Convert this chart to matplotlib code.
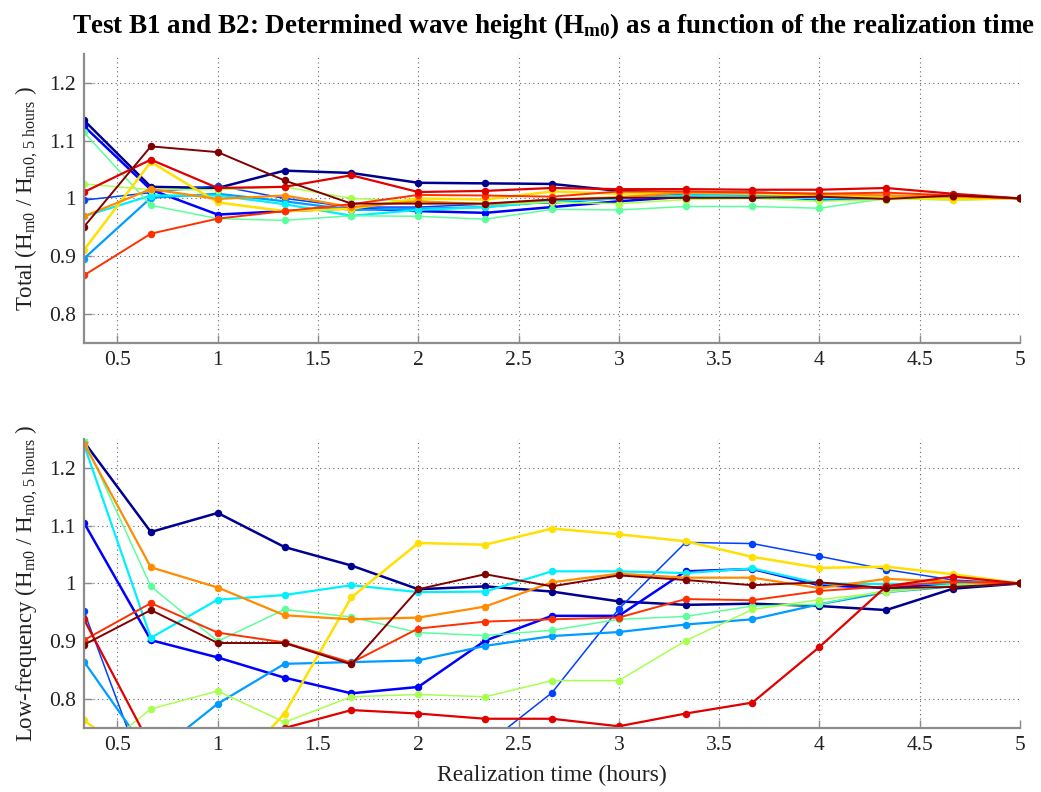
import numpy as np
import matplotlib
matplotlib.use("Agg")
import matplotlib.pyplot as plt

# ---------------- data ----------------
realization_time = [i / 3 for i in range(1, 16)]   # hours

series_colors = ["#00008f", "#0000ff", "#0040ff", "#009cff", "#00f0ff",
                 "#5cff9c", "#a8ff50", "#ffe000", "#ff8c00", "#ff3000",
                 "#e00000", "#800000"]

# Total (Hm0 / Hm0,5h)
total_navy = [1.135, 1.020, 1.018, 1.048, 1.044, 1.027, 1.026, 1.025, 1.013, 1.010, 1.010, 1.006, 1.004, 1.003, 1.0]
total_blue = [1.125, 1.015, 0.972, 0.978, 0.983, 0.978, 0.975, 0.985, 0.995, 1.003, 1.005, 0.998, 1.000, 1.000, 1.0]
total_mblue = [0.997, 1.010, 1.022, 1.000, 0.985, 0.985, 0.990, 0.992, 1.000, 1.008, 1.008, 1.005, 1.002, 1.001, 1.0]
total_lblue = [0.896, 1.001, 1.008, 0.995, 0.980, 0.982, 0.985, 0.995, 1.000, 1.005, 1.005, 1.003, 1.002, 1.000, 1.0]
total_cyan = [0.969, 1.005, 1.005, 0.990, 0.970, 0.980, 0.985, 0.995, 1.000, 1.005, 1.003, 1.000, 1.000, 1.000, 1.0]
total_lgreen = [1.114, 0.988, 0.965, 0.962, 0.970, 0.969, 0.964, 0.981, 0.980, 0.986, 0.986, 0.983, 1.000, 0.997, 1.0]
total_ygreen = [1.025, 1.015, 1.015, 1.020, 1.000, 0.995, 0.990, 0.993, 0.991, 0.998, 1.000, 0.995, 0.998, 0.999, 1.0]
total_yellow = [0.911, 1.063, 0.993, 0.978, 0.982, 1.000, 0.998, 1.012, 1.008, 1.010, 1.008, 1.005, 1.003, 0.998, 1.0]
total_orange = [0.969, 1.016, 0.999, 1.005, 0.985, 0.995, 0.990, 0.998, 1.002, 1.010, 1.010, 1.008, 1.005, 1.003, 1.0]
total_rorange = [0.867, 0.939, 0.965, 0.978, 0.990, 1.006, 1.005, 1.003, 1.012, 1.012, 1.010, 1.008, 1.010, 1.005, 1.0]
total_red = [1.011, 1.067, 1.018, 1.020, 1.040, 1.011, 1.013, 1.018, 1.016, 1.016, 1.015, 1.015, 1.018, 1.008, 1.0]
total_dred = [0.951, 1.090, 1.080, 1.031, 0.991, 0.991, 0.991, 0.998, 1.001, 1.001, 1.001, 1.003, 0.999, 1.005, 1.0]

# Low-frequency (Hm0 / Hm0,5h)
low_navy = [1.245, 1.089, 1.122, 1.063, 1.031, 0.990, 0.995, 0.986, 0.969, 0.963, 0.965, 0.961, 0.954, 0.991, 1.0]
low_blue = [1.105, 0.902, 0.872, 0.837, 0.810, 0.821, 0.901, 0.944, 0.944, 1.021, 1.025, 0.997, 0.992, 1.000, 1.0]
low_mblue = [0.952, 0.640, 0.620, 0.610, 0.640, 0.680, 0.720, 0.811, 0.956, 1.071, 1.069, 1.047, 1.024, 1.006, 1.0]
low_lblue = [0.865, 0.700, 0.792, 0.861, 0.864, 0.867, 0.892, 0.909, 0.916, 0.929, 0.938, 0.964, 0.985, 0.995, 1.0]
low_cyan = [1.240, 0.906, 0.972, 0.980, 0.997, 0.985, 0.986, 1.021, 1.021, 1.018, 1.026, 1.000, 0.999, 1.000, 1.0]
low_lgreen = [1.248, 0.995, 0.900, 0.955, 0.942, 0.915, 0.910, 0.919, 0.938, 0.943, 0.961, 0.964, 0.988, 0.998, 1.0]
low_ygreen = [0.690, 0.783, 0.814, 0.760, 0.804, 0.808, 0.804, 0.832, 0.832, 0.901, 0.955, 0.972, 0.985, 0.996, 1.0]
low_yellow = [0.763, 0.680, 0.650, 0.775, 0.976, 1.070, 1.067, 1.095, 1.085, 1.073, 1.046, 1.027, 1.029, 1.016, 1.0]
low_orange = [1.242, 1.028, 0.993, 0.945, 0.938, 0.941, 0.960, 1.002, 1.017, 1.010, 1.010, 0.992, 1.008, 1.003, 1.0]
low_rorange = [0.902, 0.966, 0.915, 0.898, 0.863, 0.922, 0.934, 0.938, 0.941, 0.973, 0.971, 0.987, 0.995, 1.003, 1.0]
low_red = [0.938, 0.718, 0.700, 0.750, 0.781, 0.775, 0.766, 0.766, 0.753, 0.775, 0.794, 0.890, 0.995, 1.012, 1.0]
low_dred = [0.894, 0.954, 0.897, 0.897, 0.860, 0.990, 1.016, 0.995, 1.014, 1.006, 0.997, 1.002, 0.992, 0.994, 1.0]

total_series = [total_navy, total_blue, total_mblue, total_lblue, total_cyan, total_lgreen,
                total_ygreen, total_yellow, total_orange, total_rorange, total_red, total_dred]
low_series = [low_navy, low_blue, low_mblue, low_lblue, low_cyan, low_lgreen,
              low_ygreen, low_yellow, low_orange, low_rorange, low_red, low_dred]
line_widths = [1.8, 1.8, 1.1, 1.6, 1.6, 1.1, 1.1, 1.8, 1.6, 1.4, 1.6, 1.4]

x_ticks = [0.5, 1, 1.5, 2, 2.5, 3, 3.5, 4, 4.5, 5]
x_tick_labels = ["0.5", "1", "1.5", "2", "2.5", "3", "3.5", "4", "4.5", "5"]
y_ticks = [0.8, 0.9, 1.0, 1.1, 1.2]
y_tick_labels = ["0.8", "0.9", "1", "1.1", "1.2"]

title = r"Test B1 and B2: Determined wave height (H$_{\mathbf{m0}}$) as a function of the realization time"
ylabel_total = r"Total (H$_{\mathrm{m0}}$ / H$_{\mathrm{m0,\,5\ hours}}$ )"
ylabel_low = r"Low-frequency (H$_{\mathrm{m0}}$ / H$_{\mathrm{m0,\,5\ hours}}$ )"
xlabel = "Realization time (hours)"

# ---------------- style ----------------
plt.rcParams["font.family"] = ["Liberation Serif", "DejaVu Serif"]
plt.rcParams["mathtext.fontset"] = "custom"
plt.rcParams["mathtext.rm"] = "Liberation Serif"
plt.rcParams["mathtext.it"] = "Liberation Serif:italic"
plt.rcParams["mathtext.bf"] = "Liberation Serif:bold"

fig = plt.figure(figsize=(10.41, 7.92), dpi=100)
ax_top = fig.add_axes([0.0807, 0.567, 0.899, 0.365])
ax_bot = fig.add_axes([0.0807, 0.0808, 0.899, 0.365])

grey = "#8c8c8c"
for ax, data, ylab in [(ax_top, total_series, ylabel_total), (ax_bot, low_series, ylabel_low)]:
    for vals, col, lw in zip(data, series_colors, line_widths):
        ax.plot(realization_time, vals, "-o", color=col, lw=lw, ms=5.4,
                markeredgewidth=0)
    ax.set_xlim(1 / 3, 5)
    ax.set_ylim(0.75, 1.25)
    ax.set_xticks(x_ticks)
    ax.set_xticklabels(x_tick_labels)
    ax.set_yticks(y_ticks)
    ax.set_yticklabels(y_tick_labels)
    ax.grid(True, linestyle=(0, (1, 3)), color="#666666", linewidth=0.8)
    ax.set_axisbelow(True)
    for s in ["top", "right"]:
        ax.spines[s].set_visible(False)
    for s in ["left", "bottom"]:
        ax.spines[s].set_color(grey)
        ax.spines[s].set_linewidth(1.6)
    ax.tick_params(direction="in", length=6, width=1.0, color=grey,
                   labelsize=15.5, labelcolor="#222222", pad=6)
    ax.set_ylabel(ylab, fontsize=16.5, color="#222222", labelpad=6)

ax_bot.set_xlabel(xlabel, fontsize=17, color="#222222", labelpad=7)
fig.suptitle(title, fontsize=19.5, fontweight="bold", x=0.532, y=0.986, va="top")

fig.savefig("out.png", dpi=100)
